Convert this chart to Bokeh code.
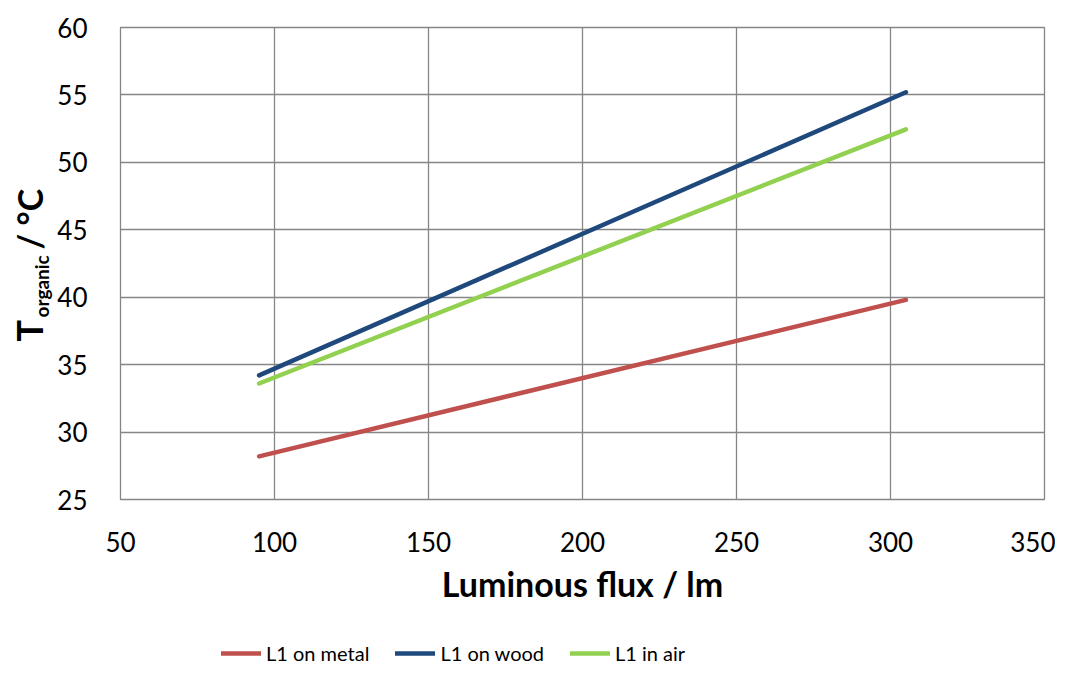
import math
from bokeh.plotting import figure
from bokeh.layouts import row, column
from bokeh.models import Range1d, Legend, LegendItem, FixedTicker
from bokeh.embed import file_html
from bokeh.resources import INLINE

# ---- data ----
flux = [95, 305]
t_metal = [28.2, 39.8]
t_wood = [34.2, 55.2]
t_air = [33.6, 52.45]
series_names = ["L1 on metal", "L1 on wood", "L1 in air"]
series_colors = ["#C0504D", "#1F497D", "#92D050"]
x_ticks = [50, 100, 150, 200, 250, 300, 350]
y_ticks = [25, 30, 35, 40, 45, 50, 55, 60]
x_title = "Luminous flux / lm"
y_title_parts = ["T", "organic", "/ °C"]

FONT = "Lato"
GRID = "#868686"

TOTAL_W, TOTAL_H = 1055, 665
YLAB_W = 53
MAIN_H = 612
LEG_H = TOTAL_H - MAIN_H
FRAME_TOP, FRAME_BOTTOM = 27, 499

# ---------- main chart ----------
p = figure(width=TOTAL_W - YLAB_W, height=MAIN_H, output_backend="svg", toolbar_location=None,
           x_range=Range1d(50, 350), y_range=Range1d(25, 60),
           min_border_left=120 - YLAB_W, min_border_top=FRAME_TOP, min_border_right=11,
           min_border_bottom=MAIN_H - FRAME_BOTTOM)
p.outline_line_color = GRID
p.outline_line_width = 1.3

for ax in (p.xaxis, p.yaxis):
    ax.axis_line_color = None
    ax.major_tick_line_color = None
    ax.minor_tick_line_color = None
    ax.major_label_text_font = FONT
    ax.major_label_text_font_size = "26px"
    ax.major_label_text_color = "black"

p.xaxis.ticker = FixedTicker(ticks=x_ticks)
p.yaxis.ticker = FixedTicker(ticks=y_ticks)
p.xaxis.major_label_standoff = 26
p.yaxis.major_label_standoff = 27

p.xaxis.axis_label = x_title
p.xaxis.axis_label_text_font = FONT
p.xaxis.axis_label_text_font_style = "bold"
p.xaxis.axis_label_text_font_size = "34px"
p.xaxis.axis_label_text_color = "black"
p.xaxis.axis_label_standoff = 8

p.xgrid.ticker = FixedTicker(ticks=x_ticks)
p.ygrid.ticker = FixedTicker(ticks=y_ticks)
for g in (p.xgrid, p.ygrid):
    g.grid_line_color = GRID
    g.grid_line_width = 1.3

for ys, c in zip([t_metal, t_wood, t_air], series_colors):
    p.line(flux, ys, line_color=c, line_width=4.5, line_cap="round")

# ---------- y-axis title panel (rotated text with subscript) ----------
# its frame is aligned with the main frame; y range expressed as -pixel-row
yl = figure(width=YLAB_W, height=MAIN_H, output_backend="svg", toolbar_location=None,
            x_range=Range1d(0, YLAB_W), y_range=Range1d(-FRAME_BOTTOM, -FRAME_TOP),
            min_border=0, outline_line_color=None)
yl.axis.visible = False
yl.grid.visible = False
# (pixel x of text middle, pixel row where text starts, font size)
ypos = [(28, 341, 36), (41, 317, 19), (29, 249, 34)]
for txt, (bx, by, fs) in zip(y_title_parts, ypos):
    yl.text(x=[bx], y=[-by], text=[txt], angle=math.pi / 2,
            text_font={"value": FONT}, text_font_style="bold",
            text_font_size=f"{fs}px", text_color="black",
            text_align="left", text_baseline="middle")

# ---------- legend panel ----------
lg = figure(width=TOTAL_W, height=LEG_H, output_backend="svg", toolbar_location=None,
            x_range=Range1d(0, 1), y_range=Range1d(0, 1),
            min_border=0, outline_line_color=None)
lg.axis.visible = False
lg.grid.visible = False
items = []
for n, c, ys in zip(series_names, series_colors, [t_metal, t_wood, t_air]):
    # same series drawn here only to provide legend swatches (outside this panel's view)
    r = lg.line(x=flux, y=ys, line_color=c, line_width=4.5, line_cap="round")
    items.append(LegendItem(label=n, renderers=[r]))
legend = Legend(items=items, orientation="horizontal", location=(221, 0),
                label_text_font=FONT, label_text_font_size="20px", label_text_color="black",
                glyph_width=40, glyph_height=20, label_standoff=5, spacing=26,
                border_line_color=None, background_fill_alpha=0, padding=0, margin=0)
lg.add_layout(legend, "center")

layout = column(row(yl, p), lg)
open("out.html", "w").write(file_html(layout, INLINE))
